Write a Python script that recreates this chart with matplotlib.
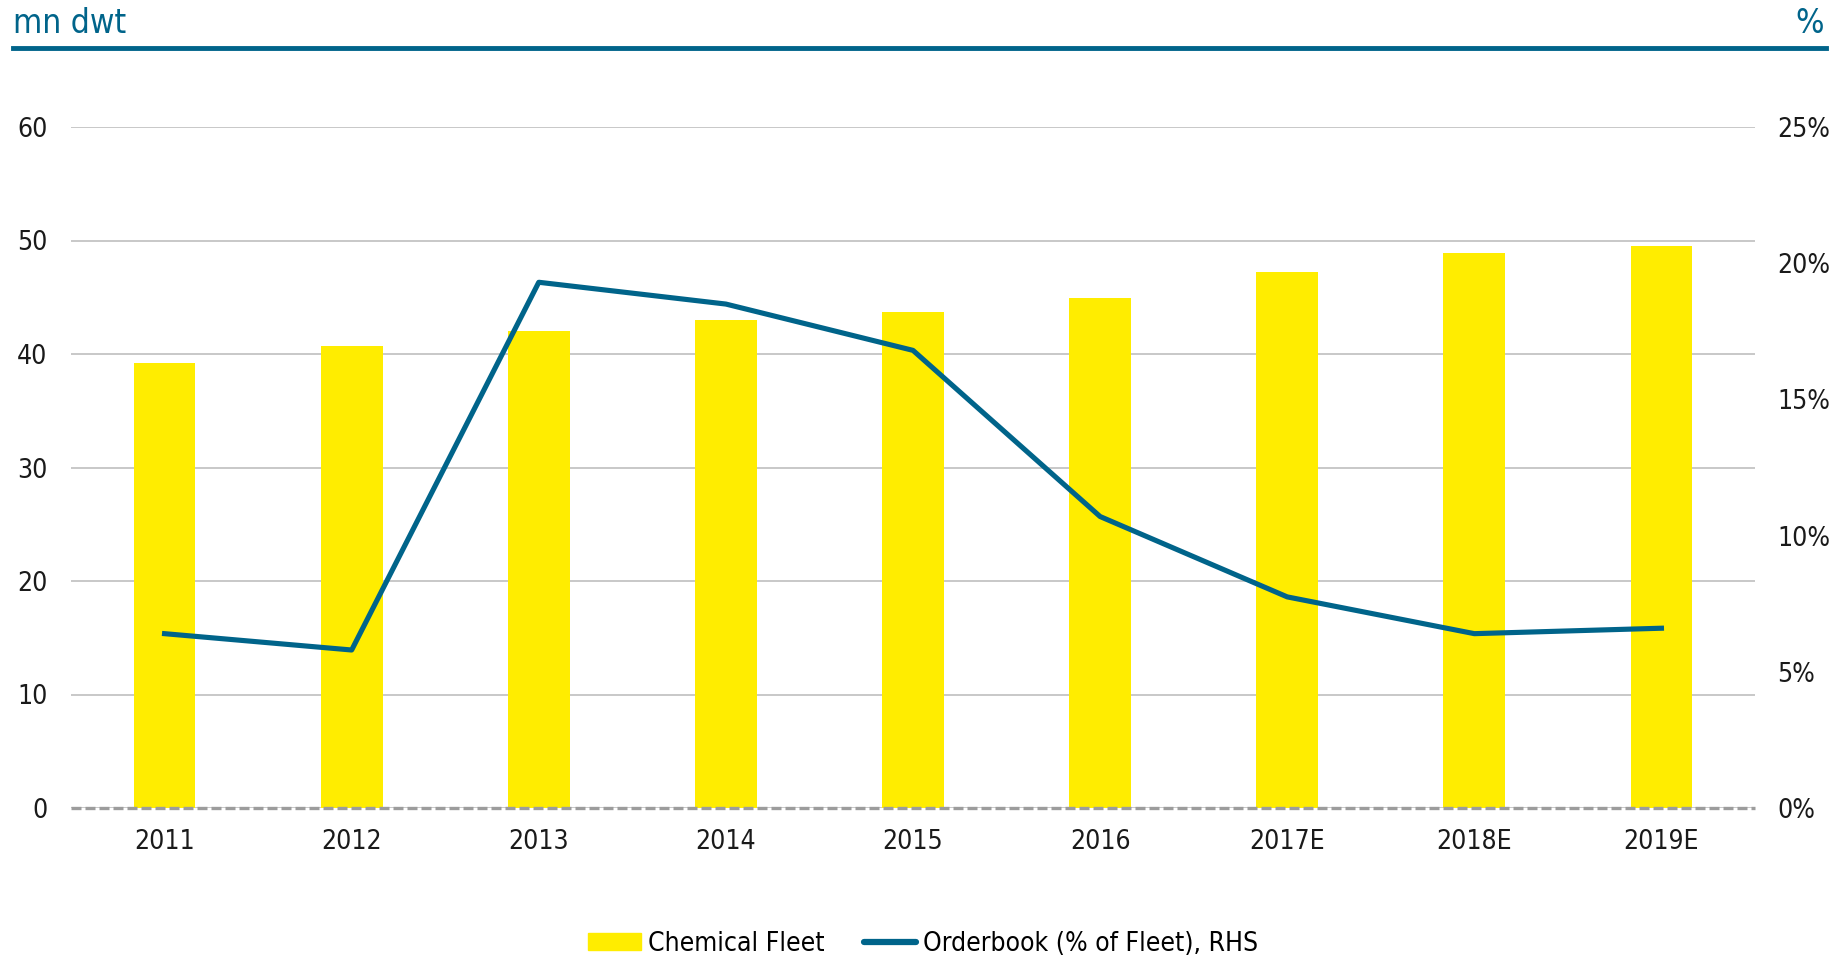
import numpy as np

import matplotlib
matplotlib.use('Agg')
import matplotlib.pyplot as plt
from matplotlib.lines import Line2D

plt.rcParams['font.family'] = ['DejaVu Sans']
plt.rcParams['font.stretch'] = 'condensed'

years = ['2011', '2012', '2013', '2014', '2015', '2016', '2017E', '2018E', '2019E']
fleet = [39.2, 40.7, 42.0, 43.0, 43.7, 44.9, 47.2, 48.9, 49.5]
orderbook = [6.4, 5.8, 19.3, 18.5, 16.8, 10.7, 7.75, 6.4, 6.6]

yellow = '#FFED00'
blue = '#00648A'

fig = plt.figure(figsize=(18.39, 9.61), dpi=100)
ax = fig.add_axes([71/1839, 1-808/961, (1755-71)/1839, (808-127)/961])
ax2 = ax.twinx()

x = np.arange(len(years))
ax.bar(x, fleet, 0.33, color=yellow, zorder=2)
ax2.plot(x, orderbook, color=blue, lw=3.7, zorder=3)

ax.set_xlim(-0.5, 8.5)
ax.set_ylim(0, 60)
ax.set_yticks(range(0, 61, 10))
ax2.set_ylim(0, 25)
ax2.set_yticks(range(0, 26, 5))
ax2.set_yticklabels(['%d%%' % v for v in range(0, 26, 5)])

ax.set_xticks(x)
ax.set_xticklabels(years)
ax.yaxis.grid(True, color='#BFBFBF', lw=1.2, zorder=0)
ax.set_axisbelow(True)
# dashed zero line drawn on the top axes, not clipped at the axes edge
ax2.axhline(0, color='#9C9C9C', lw=2.4, ls=(0, (3.0, 1.2)), zorder=4, clip_on=False)

for a in (ax, ax2):
    for s in a.spines.values():
        s.set_visible(False)
    a.tick_params(length=0, labelsize=19, colors='#1a1a1a')
ax.tick_params(axis='y', pad=17)
ax2.tick_params(axis='y', pad=16)
ax.tick_params(axis='x', pad=15)

# header
fig.text(13/1839, 1-33/961, 'mn dwt', fontsize=24, color=blue, ha='left', va='baseline')
fig.text(1824/1839, 1-33/961, '%', fontsize=24, color=blue, ha='right', va='baseline')
fig.add_artist(Line2D([13/1839, 1826/1839], [1-48/961, 1-48/961], color=blue, lw=3.5))

handles = [plt.Rectangle((0, 0), 1, 1, color=yellow),
           Line2D([0], [0], color=blue, lw=4.5, solid_capstyle='round')]
fig.legend(handles, ['Chemical Fleet', 'Orderbook (% of Fleet), RHS'],
           loc='center', bbox_to_anchor=(0.502, 1-944/961), ncol=2, frameon=False,
           fontsize=19, handlelength=2.0, handleheight=0.6, handletextpad=0.25,
           columnspacing=1.5, borderaxespad=0, borderpad=0)

fig.savefig('out.png', dpi=100)
